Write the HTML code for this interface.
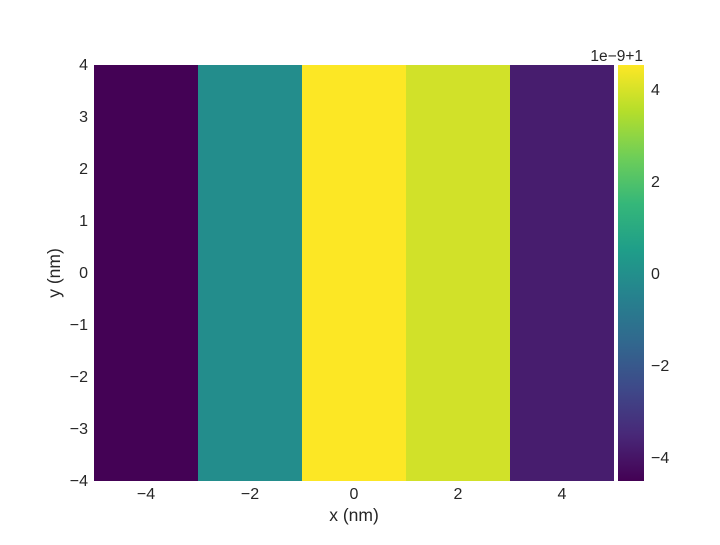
<!DOCTYPE html>
<html><head><meta charset="utf-8"><style>
body{margin:0;background:#fff}
svg text{font-family:"Liberation Sans",sans-serif;fill:#262626}
</style></head><body>
<svg id="chart" width="720" height="540">
<defs><linearGradient id="vg" x1="0" y1="1" x2="0" y2="0"></linearGradient></defs>
<g id="plot"></g>
<g id="cbar"></g>
<text x="354" y="521" font-size="17.5" text-anchor="middle">x (nm)</text>
<text transform="translate(60,273) rotate(-90)" font-size="17.5" text-anchor="middle">y (nm)</text>
<text x="643" y="61" font-size="15.5" text-anchor="end">1e−9+1</text>
</svg>
<script>
const xCenters=[-4,-2,0,2,4];
const values=[-4.5,-0.1,4.5,3.9,-3.8];
const xTicks=[-4,-2,0,2,4];
const yTicks=[-4,-3,-2,-1,0,1,2,3,4];
const cTicks=[-4,-2,0,2,4];
const vmin=-4.52,vmax=4.52;
const V=["#440154","#482878","#3e4989","#31688e","#26828e","#1f9e89","#35b779","#6ece58","#b5de2b","#fde725"];
function hx(c){return [1,3,5].map(i=>parseInt(c.substr(i,2),16));}
function vir(t){t=Math.max(0,Math.min(1,t));const f=t*(V.length-1),i=Math.min(V.length-2,Math.floor(f)),r=f-i;const a=hx(V[i]),b=hx(V[i+1]);return "rgb("+a.map((v,k)=>Math.round(v+(b[k]-v)*r)).join(",")+")";}
const X0=94,X1=614,Y0=65,Y1=481;
const xs=v=>X0+(v+5)/10*(X1-X0);
const ys=v=>Y1-(v+4)/8*(Y1-Y0);
const cs=v=>Y1-(v-vmin)/(vmax-vmin)*(Y1-Y0);
const NS="http://www.w3.org/2000/svg";
function mk(t,a,p){const e=document.createElementNS(NS,t);for(const k in a)e.setAttribute(k,a[k]);p.appendChild(e);return e;}
const plot=document.getElementById('plot'),cbar=document.getElementById('cbar');
xCenters.forEach((c,i)=>{
 const r=mk('rect',{x:xs(c-1),y:Y0,width:xs(c+1)-xs(c-1),height:Y1-Y0,fill:vir((values[i]-vmin)/(vmax-vmin))},plot);
 
 
});
xTicks.forEach(v=>{const t=mk('text',{x:xs(v),y:499,'font-size':16,'text-anchor':'middle'},plot);t.textContent=String(v).replace('-','−');
 
 });
yTicks.forEach(v=>{const t=mk('text',{x:88,y:ys(v)+5,'font-size':16,'text-anchor':'end'},plot);t.textContent=String(v).replace('-','−');
 
 });
const g=document.getElementById('vg');
V.forEach((c,i)=>mk('stop',{offset:i/(V.length-1),'stop-color':c},g));
const cr=mk('rect',{x:618,y:Y0,width:26,height:Y1-Y0,fill:'url(#vg)'},cbar);


cTicks.forEach(v=>{const t=mk('text',{x:651,y:cs(v)+6,'font-size':16},cbar);t.textContent=String(v).replace('-','−');
 
 });
</script>
</body></html>
